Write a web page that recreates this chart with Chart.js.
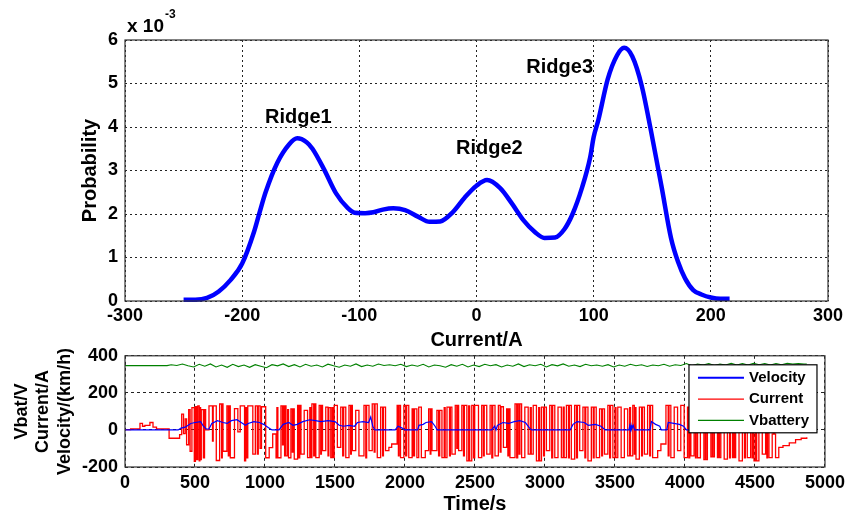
<!DOCTYPE html>
<html>
<head>
<meta charset="utf-8">
<script src="https://cdn.jsdelivr.net/npm/chart.js@4.4.0/dist/chart.umd.min.js"></script>
<style>
  html, body { margin: 0; padding: 0; background: #fff; }
  #wrap { position: relative; width: 850px; height: 517px; overflow: hidden; }
  .box { position: absolute; left: 0; width: 850px; }
  #top { top: 0; height: 350px; }
  #bottom { top: 338px; height: 179px; }
</style>
</head>
<body>
<div id="wrap">
  <div class="box" id="top"><canvas id="probChart"></canvas></div>
  <div class="box" id="bottom"><canvas id="timeChart"></canvas></div>
</div>
<script>
// ---- top plot: probability density of the current ----
const probCurrent = [-250, -240, -230, -220, -210, -200, -190, -185, -180, -170,
  -160, -153, -145, -140, -130, -120, -110, -104, -95, -88,
  -80, -71, -61, -50, -40, -31, -20, -10, 0, 9,
  20, 30, 40, 50, 58, 67, 75, 82, 90, 97,
  100, 104, 112, 120, 126, 133, 141, 149, 158, 166,
  172, 178, 185, 192, 200, 208, 216];
const probValue = [0.03, 0.03, 0.07, 0.22, 0.48, 0.86, 1.58, 2.05, 2.5, 3.18,
  3.6, 3.74, 3.65, 3.5, 3.02, 2.48, 2.14, 2.03, 2.02, 2.04,
  2.1, 2.13, 2.09, 1.94, 1.82, 1.83, 2.05, 2.38, 2.65, 2.78,
  2.6, 2.25, 1.86, 1.58, 1.45, 1.46, 1.65, 2.0, 2.6, 3.3,
  3.77, 4.16, 5.1, 5.65, 5.82, 5.62, 4.95, 3.9, 2.62, 1.45,
  0.9, 0.52, 0.25, 0.15, 0.08, 0.05, 0.05]; // x 10^-3

const ridgeNames = ['Ridge1', 'Ridge2', 'Ridge3'];
const ridgeAt = [-152, 11, 71];
const ridgeLevel = [4.23, 3.51, 5.36];

// ---- bottom plot: time series ----
const currentTime = [0, 40, 107, 125, 142, 178, 200, 225, 315, 390,
  405, 418, 430, 440, 455, 465, 478, 495, 503, 507,
  510, 512, 520, 530, 535, 540, 545, 560, 568, 576,
  600, 625, 630, 652, 676, 690, 695, 700, 728, 738,
  744, 752, 782, 806, 823, 854, 862, 868, 877, 913,
  931, 945, 952, 965, 975, 1005, 1030, 1055, 1079, 1085,
  1092, 1114, 1125, 1132, 1140, 1145, 1150, 1162, 1168, 1185,
  1195, 1200, 1209, 1233, 1242, 1248, 1257, 1280, 1304, 1320,
  1326, 1335, 1348, 1354, 1363, 1387, 1398, 1403, 1411, 1434,
  1450, 1456, 1470, 1480, 1486, 1494, 1517, 1541, 1555, 1562,
  1577, 1600, 1612, 1617, 1624, 1648, 1671, 1707, 1720, 1726,
  1743, 1766, 1780, 1786, 1802, 1826, 1840, 1846, 1861, 1885,
  1905, 1944, 1953, 1958, 1968, 1992, 2005, 2012, 2027, 2051,
  2060, 2068, 2085, 2098, 2117, 2145, 2169, 2180, 2185, 2193,
  2228, 2240, 2248, 2264, 2280, 2287, 2300, 2318, 2324, 2335,
  2359, 2370, 2378, 2383, 2406, 2418, 2424, 2442, 2455, 2462,
  2477, 2490, 2498, 2525, 2548, 2560, 2566, 2584, 2608, 2620,
  2627, 2643, 2667, 2680, 2686, 2703, 2726, 2735, 2741, 2750,
  2786, 2798, 2805, 2815, 2821, 2833, 2856, 2880, 2895, 2902,
  2916, 2939, 2955, 2962, 2975, 2990, 2996, 3010, 3034, 3048,
  3055, 3070, 3093, 3117, 3130, 3137, 3153, 3168, 3174, 3188,
  3212, 3225, 3232, 3248, 3271, 3285, 3291, 3307, 3331, 3345,
  3351, 3366, 3390, 3405, 3411, 3425, 3449, 3462, 3468, 3485,
  3500, 3507, 3520, 3544, 3567, 3591, 3605, 3611, 3627, 3638,
  3644, 3650, 3674, 3690, 3696, 3710, 3733, 3748, 3754, 3769,
  3805, 3828, 3864, 3880, 3886, 3899, 3923, 3947, 3970, 3994,
  4018, 4028, 4034, 4042, 4065, 4075, 4080, 4090, 4110, 4135,
  4145, 4150, 4160, 4185, 4195, 4200, 4210, 4232, 4240, 4246,
  4256, 4280, 4303, 4318, 4324, 4339, 4348, 4354, 4362, 4386,
  4410, 4425, 4431, 4445, 4469, 4480, 4485, 4493, 4505, 4512,
  4528, 4552, 4576, 4585, 4590, 4600, 4623, 4632, 4638, 4647,
  4670, 4700, 4745, 4790, 4830, 4870];
const currentAmp = [2, 5, 35, 20, 25, 40, 15, 5, -45, -25,
  85, -20, 60, -80, 110, -115, 120, -170, 125, -160,
  125, -160, 130, -167, 120, -160, 110, -150, 110, 0,
  130, -60, 130, -165, 140, -150, 140, -115, 130, -140,
  130, -150, 115, -10, 130, -167, 120, -150, 130, -130,
  130, -130, 130, -100, 125, -150, -95, -22, -150, 120,
  -150, 130, -80, 130, -140, 130, -140, 110, -150, 114,
  -120, 114, -158, 132, -150, 132, -131, 105, -149, 120,
  -149, 141, -140, 141, -149, 132, -130, 132, -112, 123,
  -140, 120, -149, 120, -149, 132, -94, 123, -140, 123,
  -149, 132, -130, 132, -112, 105, -140, 132, -150, 132,
  -112, 141, -120, 141, -149, 123, -140, 123, -112, -94,
  -76, 132, -140, 132, -149, 132, -140, 132, -149, 114,
  -140, 114, -149, 123, -149, -112, 114, -130, 114, -112,
  105, -140, 105, -149, 120, -149, 123, -140, 123, -131,
  132, -100, 132, -112, 132, -140, 132, -167, 130, -167,
  132, -150, 132, -149, 132, -140, 132, -131, 132, -150,
  132, -140, 132, -120, 125, -94, 114, -140, 114, -149,
  141, -150, 141, -130, 141, -149, 123, -131, 120, -131,
  132, -167, 120, -167, 123, -140, 123, -112, 132, -150,
  132, -149, 123, -149, 123, -149, 132, -150, 132, -158,
  132, -150, 132, -112, 123, -150, 123, -167, 123, -150,
  123, -149, 114, -140, 114, -131, 132, -150, 132, -149,
  120, -149, 123, -149, 114, -140, 120, -140, 132, -130,
  120, -158, 123, -140, 123, -131, 132, -140, 132, -149,
  -112, -76, 132, -140, 132, -149, 123, -112, 132, -149,
  123, -150, 123, -140, 130, -150, 130, -150, 120, -160,
  120, -160, 125, -145, 120, -145, 110, -149, 120, -149,
  123, -158, 123, -150, 123, -149, 100, -149, 69, -167,
  123, -150, 123, -149, 123, -150, 123, -167, 100, -167,
  87, -131, 123, -150, 123, -149, -22, 110, -22, -149,
  -94, -85, -70, -52, -45, -40];

const velTime = [0, 380, 400, 430, 470, 500, 540, 560, 580, 600,
  620, 660, 700, 730, 760, 800, 830, 860, 880, 920,
  960, 990, 1020, 1050, 1100, 1130, 1170, 1200, 1230, 1270,
  1320, 1360, 1400, 1450, 1500, 1530, 1560, 1600, 1640, 1660,
  1700, 1740, 1755, 1770, 1785, 1930, 1950, 1980, 2000, 2090,
  2100, 2130, 2150, 2190, 2215, 2230, 2620, 2640, 2650, 2660,
  2700, 2740, 2780, 2820, 2860, 2890, 2905, 3180, 3200, 3230,
  3280, 3310, 3360, 3400, 3430, 3600, 3605, 3610, 3615, 3620,
  3630, 3640, 3750, 3760, 3790, 3820, 3830, 3870, 3880, 3920,
  3960, 3990, 4010, 4870];
const velKmh = [0, 0, 10, 15, 35, 40, 45, 20, 5, 5,
  35, 50, 40, 35, 50, 55, 40, 25, 35, 45,
  40, 30, 15, 0, 0, 30, 40, 25, 30, 45,
  55, 50, 45, 50, 45, 25, 20, 25, 20, 40,
  45, 40, 70, 20, 0, 0, 20, 10, 0, 0,
  25, 30, 40, 45, 20, 0, 0, 20, 0, 25,
  40, 35, 45, 50, 40, 10, 0, 0, 30, 45,
  40, 25, 30, 20, 0, 0, 20, 0, 25, 5,
  25, 0, 0, 45, 30, 20, 0, 0, 40, 35,
  30, 20, 0, 0];

const vbatTime = [0, 300,
  330, 370, 410, 450, 490, 530, 570, 610, 650, 690,
  730, 770, 810, 850, 890, 930, 970, 1010, 1050, 1090,
  1130, 1170, 1210, 1250, 1290, 1330, 1370, 1410, 1450, 1490,
  1530, 1570, 1610, 1650, 1690, 1730, 1770, 1810, 1850, 1890,
  1930, 1970, 2010, 2050, 2090, 2130, 2170, 2210, 2250, 2290,
  2330, 2370, 2410, 2450, 2490, 2530, 2570, 2610, 2650, 2690,
  2730, 2770, 2810, 2850, 2890, 2930, 2970, 3010, 3050, 3090,
  3130, 3170, 3210, 3250, 3290, 3330, 3370, 3410, 3450, 3490,
  3530, 3570, 3610, 3650, 3690, 3730, 3770, 3810, 3850, 3890,
  3930, 3970, 4010, 4050, 4090, 4130, 4170, 4210, 4250, 4290,
  4330, 4370, 4410, 4450, 4490, 4530, 4570, 4610, 4650, 4690,
  4730, 4770, 4810, 4850, 4870];
const vbatVolt = [347, 347,
  352, 348, 356, 346, 340, 354, 344, 356, 340, 350,
  338, 354, 342, 350, 338, 352, 344, 336, 352, 346,
  356, 342, 352, 340, 354, 344, 350, 340, 355, 346,
  338, 350, 344, 356, 342, 350, 344, 356, 348, 352,
  346, 354, 342, 350, 344, 354, 340, 350, 346, 338,
  352, 344, 354, 340, 350, 342, 354, 346, 352, 340,
  350, 344, 356, 342, 352, 346, 354, 340, 352, 346,
  356, 344, 350, 342, 354, 346, 350, 344, 352, 340,
  350, 344, 354, 346, 352, 342, 350, 346, 354, 344,
  352, 348, 358, 346, 356, 350, 358, 348, 356, 350,
  360, 350, 358, 350, 360, 352, 358, 350, 358, 352,
  360, 356, 358, 356, 356];

const FONT = "'Liberation Sans', Arial, Helvetica, sans-serif";
Chart.defaults.font.family = FONT;
Chart.defaults.font.weight = 'bold';
Chart.defaults.color = '#000';

const pts = (xs, ys) => xs.map((x, i) => ({x: x, y: ys[i]}));

// matlab-like box round the axes
const frame = {
  id: 'frame',
  afterDatasetsDraw(chart) {
    const a = chart.chartArea, ctx = chart.ctx;
    ctx.save();
    ctx.strokeStyle = '#333';
    ctx.lineWidth = 1.2;
    ctx.strokeRect(a.left, a.top, a.right - a.left, a.bottom - a.top);
    ctx.restore();
  }
};

const ridgeText = {
  id: 'ridgeText',
  afterDraw(chart) {
    const ctx = chart.ctx, a = chart.chartArea;
    const sx = chart.scales.x, sy = chart.scales.y;
    ctx.save();
    ctx.fillStyle = '#000';
    ctx.font = 'bold 20px ' + FONT;
    ctx.textAlign = 'center';
    ctx.textBaseline = 'middle';
    ridgeNames.forEach((n, i) => {
      ctx.fillText(n, sx.getPixelForValue(ridgeAt[i]), sy.getPixelForValue(ridgeLevel[i]));
    });
    // exponent of the y axis
    ctx.textAlign = 'left';
    ctx.textBaseline = 'alphabetic';
    ctx.font = 'bold 19px ' + FONT;
    ctx.fillText('x 10', a.left + 2, a.top - 8);
    const w = ctx.measureText('x 10').width;
    ctx.font = 'bold 12px ' + FONT;
    ctx.fillText('-3', a.left + 3 + w, a.top - 22);
    ctx.restore();
  }
};

const boxLegend = {
  id: 'boxLegend',
  afterDraw(chart) {
    const ctx = chart.ctx, a = chart.chartArea;
    const x0 = a.right - 136, y0 = a.top + 9, w = 128, h = 68;
    ctx.save();
    ctx.fillStyle = '#fff';
    ctx.fillRect(x0, y0, w, h);
    ctx.strokeStyle = '#000';
    ctx.lineWidth = 1.2;
    ctx.strokeRect(x0, y0, w, h);
    ctx.font = 'bold 15px ' + FONT;
    ctx.textBaseline = 'middle';
    ctx.textAlign = 'left';
    chart.data.datasets.forEach((ds, i) => {
      const y = y0 + 13 + i * 21.3;
      ctx.strokeStyle = ds.borderColor;
      ctx.lineWidth = i === 0 ? 2 : 1.2;
      ctx.beginPath();
      ctx.moveTo(x0 + 9, y);
      ctx.lineTo(x0 + 55, y);
      ctx.stroke();
      ctx.fillStyle = '#000';
      ctx.fillText(ds.label, x0 + 60, y);
    });
    ctx.restore();
  }
};

const tickFont = {size: 18, weight: 'bold', lineHeight: 1.2};
const gridDotted = {color: '#222', lineWidth: 1, drawTicks: false};

new Chart(document.getElementById('probChart'), {
  type: 'line',
  data: {
    datasets: [{
      label: 'Probability',
      data: pts(probCurrent, probValue),
      borderColor: '#0000ff',
      borderWidth: 4.5,
      pointRadius: 0,
      cubicInterpolationMode: 'monotone',
      clip: 6
    }]
  },
  options: {
    responsive: true,
    maintainAspectRatio: false,
    animation: false,
    layout: {padding: {top: 40, right: 22, left: 0, bottom: 0}},
    plugins: {legend: {display: false}, tooltip: {enabled: false}},
    scales: {
      x: {
        type: 'linear', min: -300, max: 300,
        afterFit: s => { s.height = 49; },
        ticks: {stepSize: 100, font: tickFont, padding: 4, maxRotation: 0, autoSkip: false,
          callback: v => String(v)},
        grid: gridDotted,
        border: {display: false, dash: [2, 3]},
        title: {display: true, text: 'Current/A', font: {size: 20, weight: 'bold', lineHeight: 1}, padding: {top: 0, bottom: 0}}
      },
      y: {
        min: 0, max: 6,
        afterFit: s => { s.width = 125; },
        ticks: {stepSize: 1, font: tickFont, padding: 7},
        grid: gridDotted,
        border: {display: false, dash: [2, 3]},
        title: {display: true, text: 'Probability', font: {size: 20, weight: 'bold', lineHeight: 1}, padding: {top: 80, bottom: 0}}
      }
    }
  },
  plugins: [frame, ridgeText]
});

new Chart(document.getElementById('timeChart'), {
  type: 'line',
  data: {
    datasets: [{
      label: 'Velocity',
      data: pts(velTime, velKmh),
      borderColor: '#0000ff',
      borderWidth: 1.2,
      pointRadius: 0
    }, {
      label: 'Current',
      data: pts(currentTime, currentAmp),
      borderColor: '#ff0000',
      borderWidth: 1.3,
      pointRadius: 0,
      stepped: 'before'
    }, {
      label: 'Vbattery',
      data: pts(vbatTime, vbatVolt),
      borderColor: '#008000',
      borderWidth: 1.1,
      pointRadius: 0
    }]
  },
  options: {
    responsive: true,
    maintainAspectRatio: false,
    animation: false,
    layout: {padding: {top: 0, right: 22, left: 0, bottom: 0}},
    plugins: {legend: {display: false}, tooltip: {enabled: false}},
    scales: {
      x: {
        type: 'linear', min: 0, max: 5000,
        afterFit: s => { s.height = 50; },
        ticks: {stepSize: 500, font: tickFont, padding: 5, maxRotation: 0, autoSkip: false,
          callback: v => String(v)},
        grid: gridDotted,
        border: {display: false, dash: [3, 3]},
        title: {display: true, text: 'Time/s', font: {size: 20, weight: 'bold', lineHeight: 1}, padding: {top: 0, bottom: 2.5}}
      },
      y: {
        min: -200, max: 400,
        afterFit: s => { s.width = 125; },
        ticks: {stepSize: 200, font: tickFont, padding: 7},
        grid: gridDotted,
        border: {display: false, dash: [3, 3]},
        title: {display: true, text: ['Vbat/V', 'Current/A', 'Velocity/(km/h)'],
          font: {size: 18, weight: 'bold', lineHeight: 1.19}, padding: {top: 11, bottom: 0}}
      }
    }
  },
  plugins: [frame, boxLegend]
});
</script>
</body>
</html>
